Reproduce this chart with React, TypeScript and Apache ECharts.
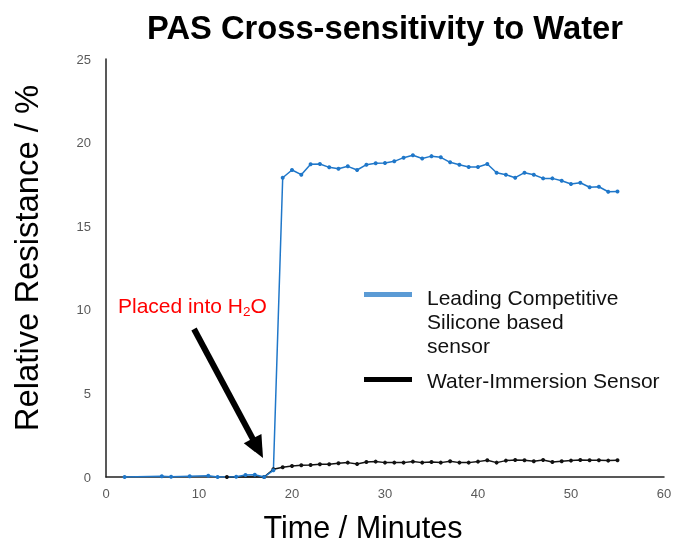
import React, { useEffect, useRef } from "react";
import * as echarts from "echarts";

const xTicks = [0, 10, 20, 30, 40, 50, 60];
const yTicks = [0, 5, 10, 15, 20, 25];

const competitorTimes = [2, 6, 7, 9, 11, 12, 14, 15, 16, 17, 18, 19, 20, 21, 22, 23, 24, 25, 26, 27, 28, 29, 30, 31, 32, 33, 34, 35, 36, 37, 38, 39, 40, 41, 42, 43, 44, 45, 46, 47, 48, 49, 50, 51, 52, 53, 54, 55];
const competitorValues = [0, 0.05, 0.02, 0.05, 0.08, 0, 0.02, 0.12, 0.14, 0, 0.4,
  17.9, 18.36, 18.08, 18.7, 18.72, 18.52, 18.44, 18.58, 18.36, 18.68,
  18.76, 18.78, 18.88, 19.1, 19.24, 19.05, 19.19, 19.12, 18.82, 18.68,
  18.54, 18.54, 18.72, 18.2, 18.08, 17.9, 18.2, 18.08, 17.86, 17.86,
  17.72, 17.52, 17.6, 17.33, 17.36, 17.06, 17.08];

const immersionTimes = [13, 17, 18, 19, 20, 21, 22, 23, 24, 25, 26, 27, 28, 29, 30, 31, 32, 33, 34, 35, 36, 37, 38, 39, 40, 41, 42, 43, 44, 45, 46, 47, 48, 49, 50, 51, 52, 53, 54, 55];
const immersionValues = [0, 0, 0.46, 0.58, 0.66, 0.7, 0.72, 0.76, 0.76, 0.82, 0.86, 0.78,
  0.9, 0.92, 0.86, 0.86, 0.86, 0.92, 0.86, 0.9, 0.86, 0.94,
  0.86, 0.86, 0.92, 1.0, 0.86, 0.98, 1.02, 1.0, 0.94, 1.02,
  0.9, 0.94, 0.98, 1.02, 1.0, 1.0, 0.98, 1.0];

const seriesNames = ["Leading Competitive Silicone based sensor", "Water-Immersion Sensor"];
const legendLines = ["Leading Competitive", "Silicone based", "sensor"];

const FONT = "'Liberation Sans', Arial, sans-serif";

export default function App() {
  const ref = useRef<HTMLDivElement>(null);
  useEffect(() => {
    if (!ref.current) return;
    const chart = echarts.init(ref.current, null, { renderer: "svg" });
    const blue = competitorTimes.map((t, i) => [t, competitorValues[i]]);
    const black = immersionTimes.map((t, i) => [t, immersionValues[i]]);

    // arrow geometry
    const sx = 194, sy = 329, tx = 263, ty = 458;
    const len = Math.hypot(tx - sx, ty - sy);
    const ux = (tx - sx) / len, uy = (ty - sy) / len;
    const px = -uy, py = ux;
    const headLen = 22, headHalf = 10;
    const bx = tx - headLen * ux, by = ty - headLen * uy;

    chart.setOption({
      animation: false,
      textStyle: { fontFamily: FONT },
      grid: { left: 106, right: 12, top: 59, bottom: 67, containLabel: false },
      xAxis: {
        type: "value",
        min: 0,
        max: 60,
        interval: 10,
        axisLine: { show: true, lineStyle: { color: "#222", width: 1.5 } },
        axisTick: { show: false },
        splitLine: { show: false },
        axisLabel: { color: "#595959", fontSize: 13, margin: 10, fontFamily: FONT,
          formatter: (v: number) => (xTicks.includes(v) ? String(v) : "") },
      },
      yAxis: {
        type: "value",
        min: 0,
        max: 25,
        interval: 5,
        axisLine: { show: true, lineStyle: { color: "#222", width: 1.5 } },
        axisTick: { show: false },
        splitLine: { show: false },
        axisLabel: { color: "#595959", fontSize: 13, margin: 15, fontFamily: FONT,
          formatter: (v: number) => (yTicks.includes(v) ? String(v) : "") },
      },
      series: [
        {
          name: seriesNames[1],
          type: "line",
          data: black,
          symbol: "circle",
          symbolSize: 4,
          itemStyle: { color: "#111" },
          lineStyle: { color: "#111", width: 1.5 },
        },
        {
          name: seriesNames[0],
          type: "line",
          data: blue,
          symbol: "circle",
          symbolSize: 4,
          itemStyle: { color: "#1f77c9" },
          lineStyle: { color: "#1f77c9", width: 1.5 },
        },
      ],
      graphic: [
        { type: "text", x: 385, y: 27, style: { text: "PAS Cross-sensitivity to Water", font: `bold 32.7px ${FONT}`, fill: "#000", textAlign: "center", textVerticalAlign: "middle" } },
        { type: "text", x: 26, y: 258, rotation: Math.PI / 2, style: { text: "Relative Resistance / %", font: `32.8px ${FONT}`, fill: "#000", textAlign: "center", textVerticalAlign: "middle" } },
        { type: "text", x: 363, y: 527, style: { text: "Time / Minutes", font: `30.5px ${FONT}`, fill: "#000", textAlign: "center", textVerticalAlign: "middle" } },
        { type: "rect", shape: { x: 364, y: 292, width: 48, height: 5 }, style: { fill: "#5b9bd5" } },
        { type: "text", x: 427, y: 297, style: { text: legendLines[0], font: `21px ${FONT}`, fill: "#111", textAlign: "left", textVerticalAlign: "middle" } },
        { type: "text", x: 427, y: 321, style: { text: legendLines[1], font: `21px ${FONT}`, fill: "#111", textAlign: "left", textVerticalAlign: "middle" } },
        { type: "text", x: 427, y: 345, style: { text: legendLines[2], font: `21px ${FONT}`, fill: "#111", textAlign: "left", textVerticalAlign: "middle" } },
        { type: "rect", shape: { x: 364, y: 377, width: 48, height: 5 }, style: { fill: "#000" } },
        { type: "text", x: 427, y: 380, style: { text: seriesNames[1], font: `21px ${FONT}`, fill: "#111", textAlign: "left", textVerticalAlign: "middle" } },
        {
          type: "text", x: 118, y: 305,
          style: {
            text: "{a|Placed into H}{s|2}{a|O}",
            textAlign: "left", textVerticalAlign: "middle",
            rich: {
              a: { fontSize: 21, fontFamily: FONT, fill: "#ff0000", color: "#ff0000", lineHeight: 26 },
              s: { fontSize: 13.5, fontFamily: FONT, fill: "#ff0000", color: "#ff0000", lineHeight: 13, verticalAlign: "bottom" },
            },
          },
        },
        { type: "line", shape: { x1: sx, y1: sy, x2: bx + 2 * ux, y2: by + 2 * uy }, style: { stroke: "#000", lineWidth: 6 } },
        { type: "polygon", shape: { points: [[tx, ty], [bx + headHalf * px, by + headHalf * py], [bx - headHalf * px, by - headHalf * py]] }, style: { fill: "#000" } },
      ],
    });
    return () => chart.dispose();
  }, []);
  return <div ref={ref} style={{ position: "fixed", left: 0, top: 0, width: 676, height: 544 }} />;
}
